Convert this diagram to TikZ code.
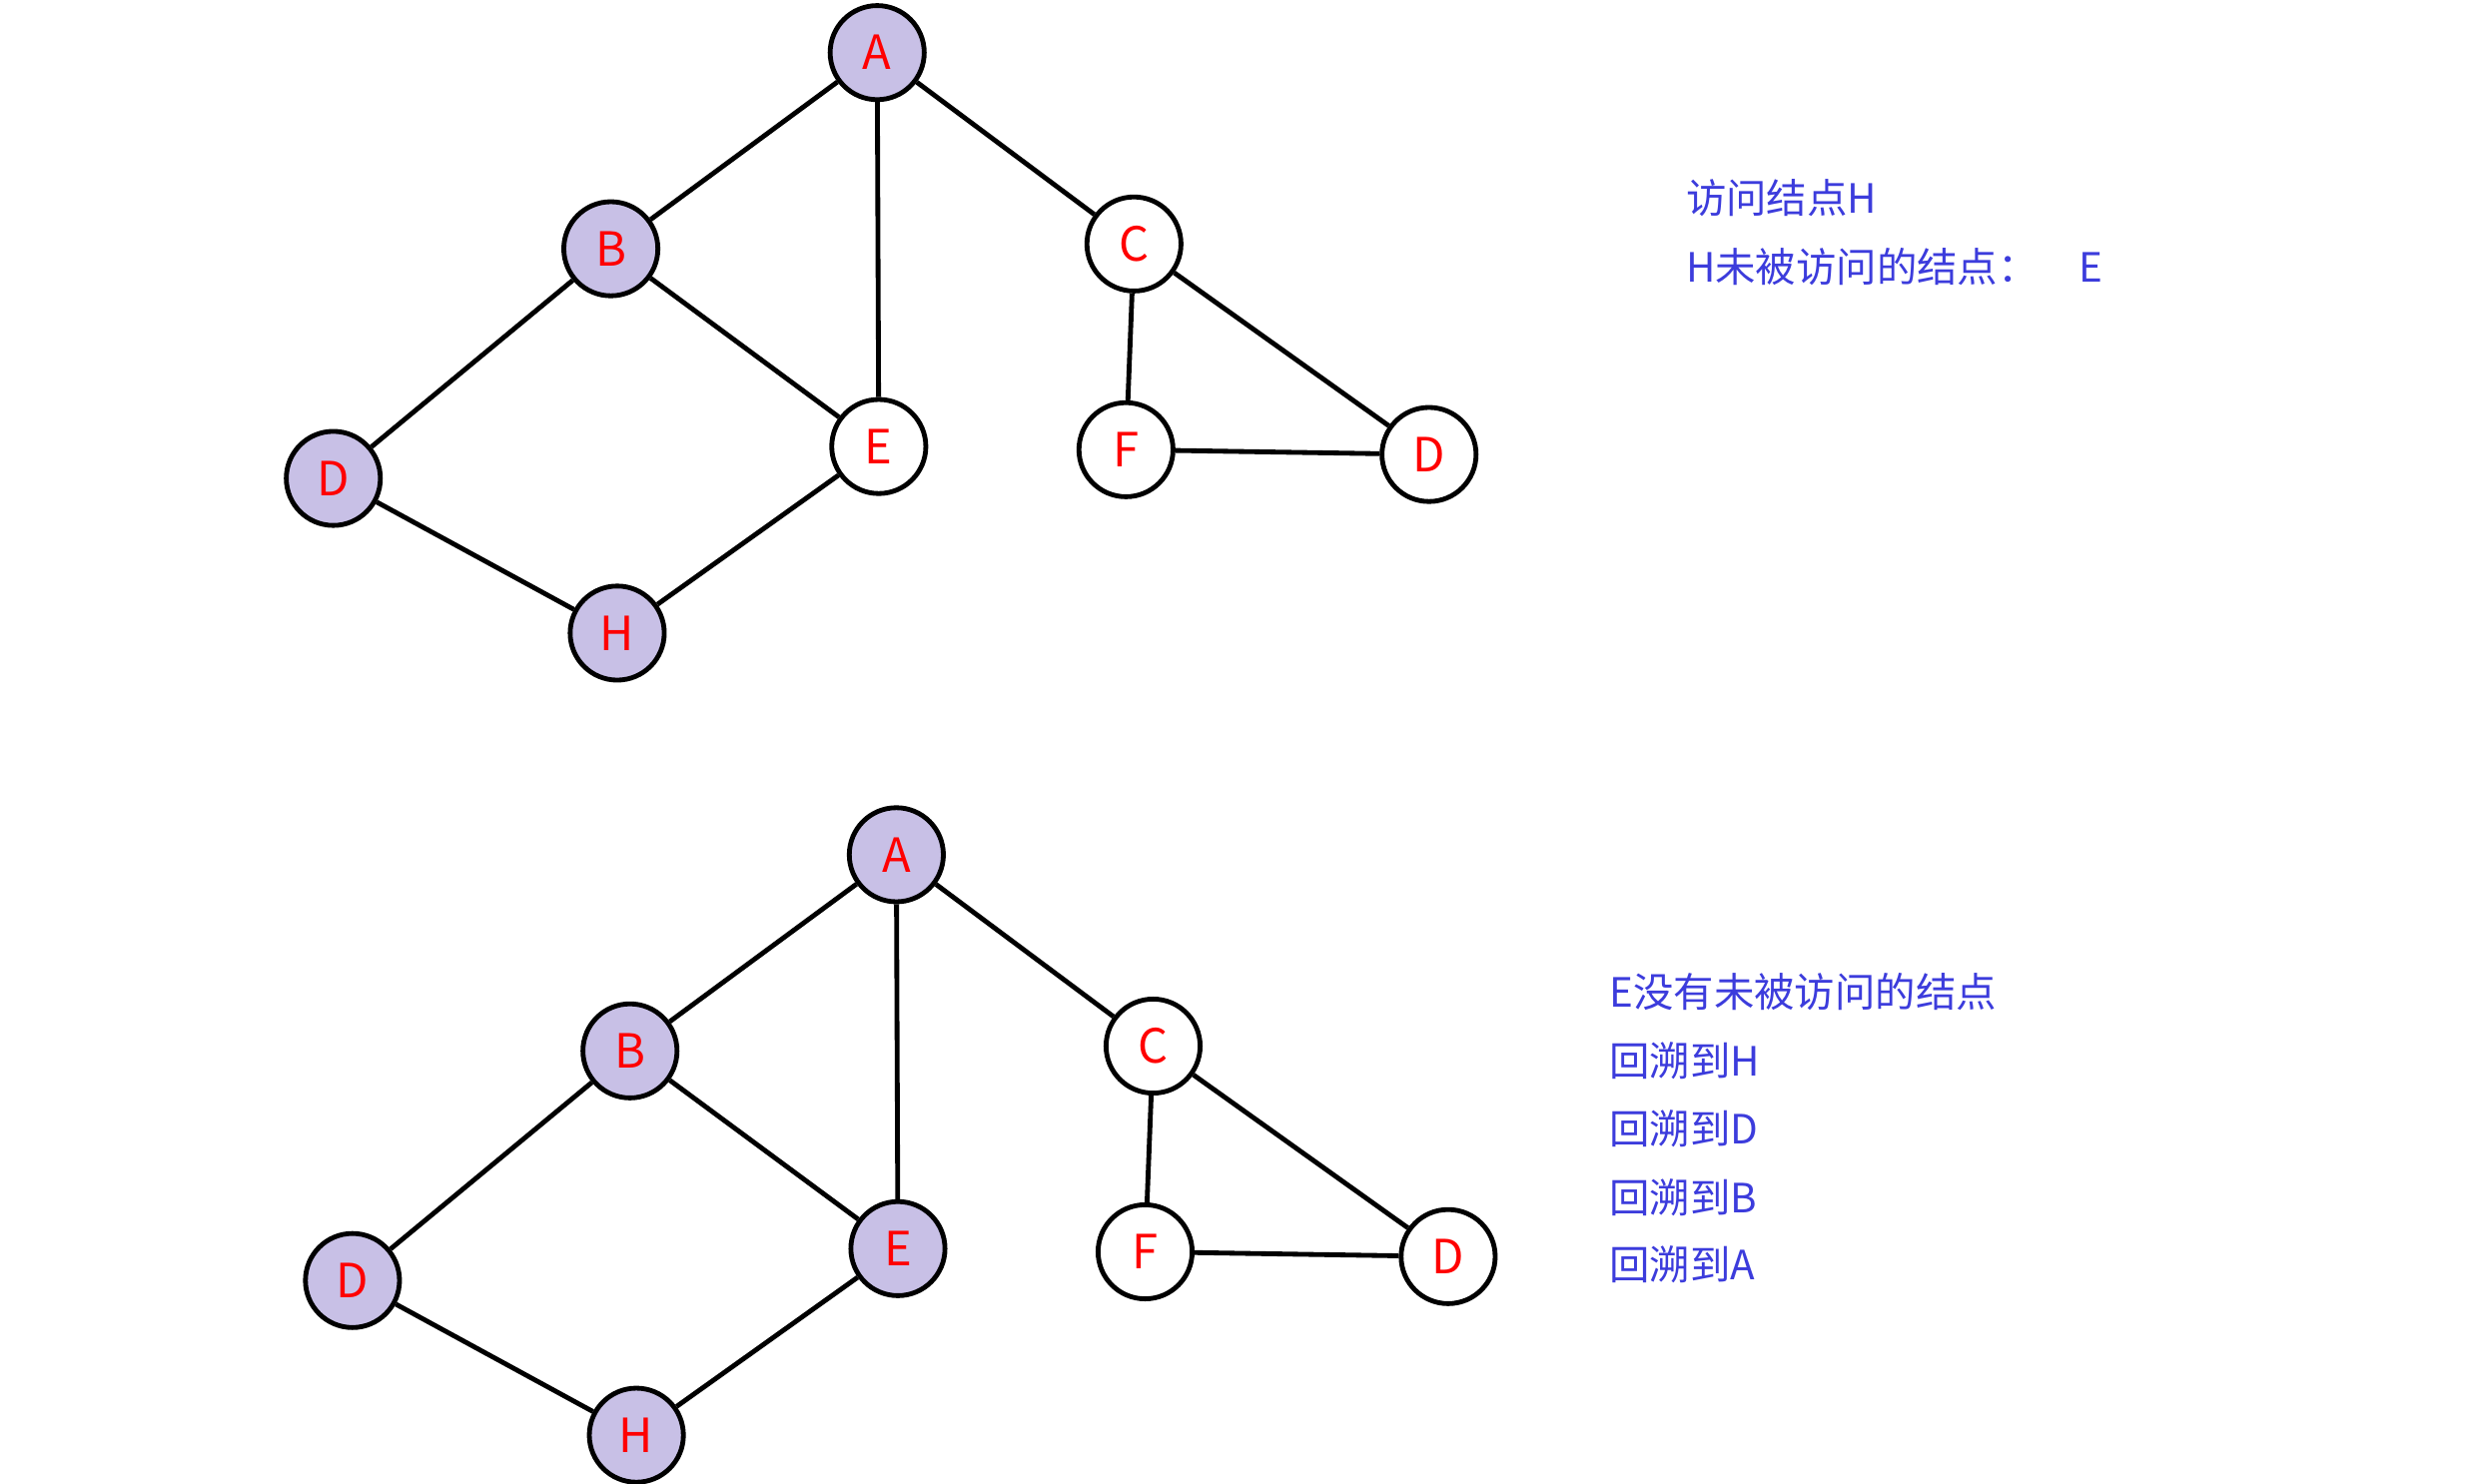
\documentclass[tikz,border=0pt]{standalone}
\usepackage{fontspec}
\setmainfont{Noto Sans CJK SC}
\begin{document}
\begin{tikzpicture}[x=0.05cm,y=-0.05cm,
 v/.style={circle,draw=black,line width=4.3pt,minimum size=2.95cm,inner sep=0pt,text=red,font=\fontsize{42}{46}\selectfont},
 vis/.style={v,fill={rgb,255:red,200;green,192;blue,230}},
 e/.style={line width=4.3pt},
 t/.style={anchor=west,text={rgb,255:red,60;green,60;blue,220},font=\fontsize{36}{40}\selectfont,inner sep=0pt}]
\useasboundingbox (0,0) rectangle (1560,930);
\foreach \p/\dx/\dy/\e in {t/0/0/,b/12/503/vis}{
 \node[vis] (A\p) at (550+\dx,33+\dy) {A};
 \node[vis] (B\p) at (383+\dx,156+\dy) {B};
 \node[v] (C\p) at (711+\dx,153+\dy) {C};
 \node[vis] (D\p) at (209+\dx,300+\dy) {D};
 \node[v,\e] (E\p) at (551+\dx,280+\dy) {E};
 \node[v] (F\p) at (706+\dx,282+\dy) {F};
 \node[v] (G\p) at (896+\dx,285+\dy) {D};
 \node[vis] (H\p) at (387+\dx,397+\dy) {H};
 \draw[e] (A\p)--(B\p) (A\p)--(E\p) (A\p)--(C\p) (B\p)--(D\p) (B\p)--(E\p) (D\p)--(H\p) (H\p)--(E\p) (C\p)--(F\p) (C\p)--(G\p) (F\p)--(G\p);
}
\node[t] (t1) at (1057,124) {访问结点H};
\node[t] (t2) at (1057,167) {H未被访问的结点：\quad E};
\node[t] (b1) at (1009,622) {E没有未被访问的结点};
\node[t] (b2) at (1009,665) {回溯到H};
\node[t] (b3) at (1009,708) {回溯到D};
\node[t] (b4) at (1009,751) {回溯到B};
\node[t] (b5) at (1009,793) {回溯到A};
\end{tikzpicture}
\end{document}
